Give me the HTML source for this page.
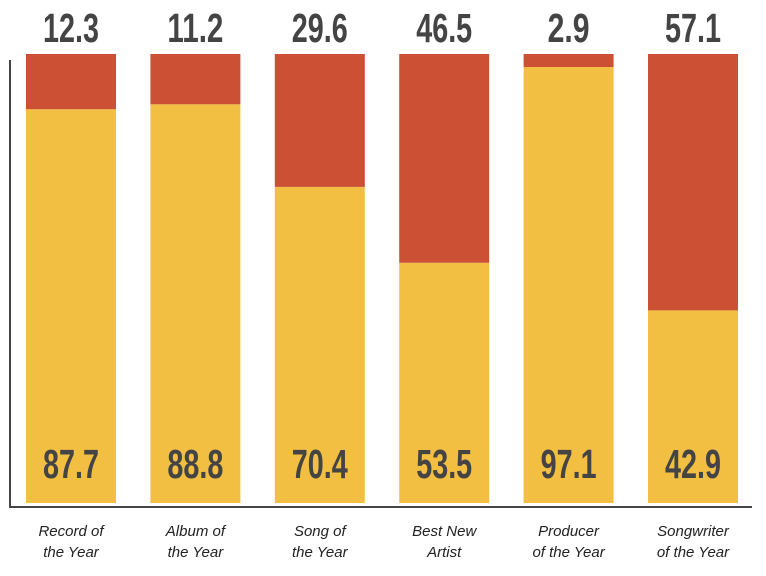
<!DOCTYPE html>
<html><head><meta charset="utf-8"><style>
html,body{margin:0;padding:0;background:#fff;}
svg{display:block;}
</style></head><body>
<svg id="chart" width="766" height="576" viewBox="0 0 766 576" xmlns="http://www.w3.org/2000/svg">
<g id="bars"></g>
<line x1="10" y1="60" x2="10" y2="507" stroke="#444" stroke-width="2"/>
<line x1="9" y1="507" x2="752" y2="507" stroke="#444" stroke-width="2"/>
</svg>
<script>
const categoriesLine1 = ["Record of","Album of","Song of","Best New","Producer","Songwriter"];
const categoriesLine2 = ["the Year","the Year","the Year","Artist","of the Year","of the Year"];
const yellowValues = [87.7, 88.8, 70.4, 53.5, 97.1, 42.9];
const redValues = [12.3, 11.2, 29.6, 46.5, 2.9, 57.1];

const NS = "http://www.w3.org/2000/svg";
const g = document.getElementById("bars");
const plotTop = 54, plotBottom = 503;
const yScale = v => plotBottom - (v / 100) * (plotBottom - plotTop);
const xStart = 26, step = 124.4, barW = 90;
const xScale = i => xStart + i * step;
function mk(tag, attrs){const e=document.createElementNS(NS,tag);for(const k in attrs)e.setAttribute(k,attrs[k]);return e;}
function numLen(s){return s.length * 14;}
yellowValues.forEach((yv, i) => {
  const rv = redValues[i];
  const x = xScale(i), cx = x + barW/2;
  const y1 = yScale(yv);
  const yb = mk("rect",{x:x,y:y1,width:barW,height:plotBottom-y1,fill:"#f2bf43"});
  
  
  g.appendChild(yb);
  const y2 = yScale(yv + rv);
  const rb = mk("rect",{x:x,y:y2,width:barW,height:y1-y2,fill:"#cc5033"});
  
  
  g.appendChild(rb);
  const sTop = rv.toFixed(1);
  const tTop = mk("text",{x:cx,y:42,"text-anchor":"middle","font-family":"Liberation Sans, sans-serif","font-weight":"bold","font-size":"41",fill:"#444",textLength:numLen(sTop),lengthAdjust:"spacingAndGlyphs"});
  tTop.textContent = sTop;
  
  
  g.appendChild(tTop);
  const sBot = yv.toFixed(1);
  const tBot = mk("text",{x:cx,y:478,"text-anchor":"middle","font-family":"Liberation Sans, sans-serif","font-weight":"bold","font-size":"41",fill:"#444",textLength:numLen(sBot),lengthAdjust:"spacingAndGlyphs"});
  tBot.textContent = sBot;
  
  
  g.appendChild(tBot);
  [categoriesLine1[i], categoriesLine2[i]].forEach((s, j) => {
    const t = mk("text",{x:cx,y:536+j*21,"text-anchor":"middle","font-family":"Liberation Sans, sans-serif","font-style":"italic","font-size":"15",fill:"#222"});
    t.textContent = s;
    
    
    g.appendChild(t);
  });
});
</script>
</body></html>
